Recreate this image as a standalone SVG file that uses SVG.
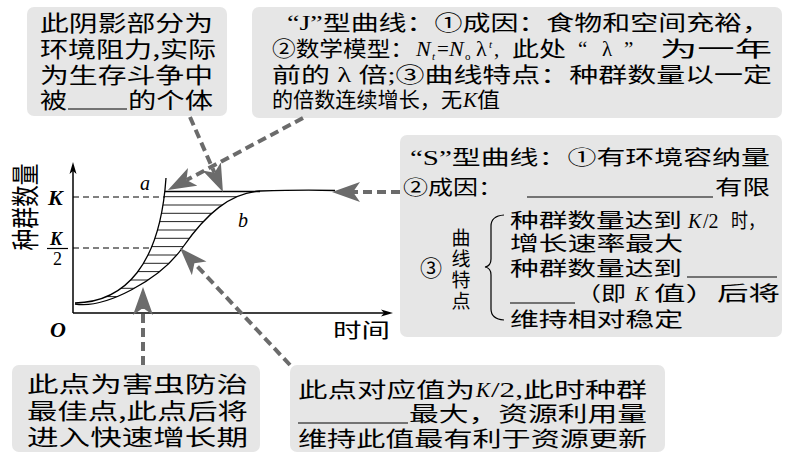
<svg xmlns="http://www.w3.org/2000/svg" width="785" height="453" viewBox="0 0 785 453">
<style>
.box{fill:#e6e6e6}
.t{font-family:"Liberation Serif","Noto Sans CJK SC",serif;fill:#000}
.c{font-family:"Noto Sans CJK SC","Liberation Serif",serif;fill:#000}
.i{font-family:"Liberation Serif",serif;font-style:italic}
.arr{stroke:#6b6b6b;stroke-width:4;stroke-dasharray:9 5;fill:none}
.ul{stroke:#000;stroke-width:1.2}
.hatch line{stroke:#222;stroke-width:1}
.curve{fill:none;stroke:#000;stroke-width:1.3}
</style>
<defs>
<marker id="ah" markerUnits="userSpaceOnUse" markerWidth="30" markerHeight="22" refX="7" refY="10" orient="auto">
<path d="M0,0 L28,10 L0,20 L7,10 Z" fill="#6b6b6b"/>
</marker>
<clipPath id="region">
<path d="M75,303 C125,302 160,265 166,178 L270,178 L270,191 L260,191 C230,193 206,214 183,247 C160,280 105,309 75,304 Z"/>
</clipPath>
</defs>

<g id="graph">
<line x1="73" y1="313" x2="73" y2="168" stroke="#000" stroke-width="1.5"/>
<path d="M73,162 L69.5,174 L73,171 L76.5,174 Z" fill="#000"/>
<line x1="73" y1="313" x2="386" y2="313" stroke="#000" stroke-width="1.5"/>
<path d="M393,313 L381,309.5 L384,313 L381,316.5 Z" fill="#000"/>
<line x1="73" y1="197" x2="165" y2="197" stroke="#000" stroke-width="1" stroke-dasharray="6 4"/>
<line x1="73" y1="248" x2="153" y2="248" stroke="#000" stroke-width="1" stroke-dasharray="6 4"/>
<g class="hatch" clip-path="url(#region)">
<line x1="70" y1="196.7" x2="280" y2="196.7"/>
<line x1="70" y1="205" x2="280" y2="205"/>
<line x1="70" y1="213.3" x2="280" y2="213.3"/>
<line x1="70" y1="221.6" x2="280" y2="221.6"/>
<line x1="70" y1="230" x2="280" y2="230"/>
<line x1="70" y1="238.3" x2="280" y2="238.3"/>
<line x1="70" y1="246.6" x2="280" y2="246.6"/>
<line x1="70" y1="255" x2="280" y2="255"/>
<line x1="70" y1="263.3" x2="280" y2="263.3"/>
<line x1="70" y1="271.6" x2="280" y2="271.6"/>
<line x1="70" y1="280" x2="280" y2="280"/>
<line x1="70" y1="288.3" x2="280" y2="288.3"/>
<line x1="70" y1="296.6" x2="280" y2="296.6"/>
</g>
<line x1="165" y1="191.5" x2="260" y2="191.5" stroke="#000" stroke-width="1.3"/>
<path class="curve" d="M75,303 C125,302 160,265 166,178"/>
<path class="curve" d="M75,304 C105,309 160,280 183,247 C206,214 230,193 260,191 C290,190 320,190 335,190.5"/>
<text class="t" x="48" y="205" font-size="22" font-weight="bold" font-style="italic">K</text>
<text class="t" x="50" y="245" font-size="18" font-weight="bold" font-style="italic">K</text>
<line x1="47" y1="248.5" x2="68" y2="248.5" stroke="#000" stroke-width="1.2"/>
<text class="t" x="53" y="265" font-size="18">2</text>
<text class="t" x="50" y="337" font-size="22" font-weight="bold" font-style="italic">O</text>
<text class="c" x="333" y="338" font-size="20" textLength="57" lengthAdjust="spacingAndGlyphs">时间</text>
<text class="t" x="140" y="190" font-size="20" font-style="italic">a</text>
<text class="t" x="238" y="227" font-size="20" font-style="italic">b</text>
<text class="c" transform="translate(36,207) scale(1.25,1) rotate(-90)" font-size="23" text-anchor="middle" textLength="87" lengthAdjust="spacingAndGlyphs">种群数量</text>
</g>

<g id="box-shade">
<rect class="box" x="27" y="7" width="200" height="109" rx="7"/>
<text class="c" x="40" y="31" font-size="22" textLength="173" lengthAdjust="spacingAndGlyphs">此阴影部分为</text>
<text class="c" x="40" y="57" font-size="22" textLength="176" lengthAdjust="spacingAndGlyphs">环境阻力,实际</text>
<text class="c" x="40" y="83" font-size="22" textLength="173" lengthAdjust="spacingAndGlyphs">为生存斗争中</text>
<text class="c" x="40" y="108" font-size="22" textLength="27" lengthAdjust="spacingAndGlyphs">被</text>
<line class="ul" x1="68" y1="109" x2="127" y2="109"/>
<text class="c" x="128" y="108" font-size="22" textLength="85" lengthAdjust="spacingAndGlyphs">的个体</text>
</g>

<g id="box-j">
<rect class="box" x="252" y="7" width="530" height="111" rx="7"/>
<text class="t" x="287" y="30" font-size="21" textLength="483" lengthAdjust="spacingAndGlyphs">“J”型曲线：①成因：食物和空间充裕，</text>
<text class="t" x="272" y="56" font-size="21" textLength="142" lengthAdjust="spacingAndGlyphs">②数学模型：</text>
<text class="i" x="416" y="56" font-size="22">N</text>
<text class="i" x="432" y="60" font-size="11">t</text>
<text class="t" x="437" y="56" font-size="21">=</text>
<text class="i" x="449" y="56" font-size="22">N</text>
<text class="t" x="465" y="60" font-size="11">o</text>
<text class="t" x="476" y="56" font-size="22">λ</text>
<text class="i" x="489" y="48" font-size="11">t</text>
<text class="t" x="494" y="56" font-size="21">,</text>
<text class="c" x="512" y="56" font-size="21" textLength="54" lengthAdjust="spacingAndGlyphs">此处</text>
<text class="t" x="578" y="56" font-size="21">“</text>
<text class="t" x="602" y="56" font-size="21">λ</text>
<text class="t" x="624" y="56" font-size="21">”</text>
<text class="c" x="660" y="56" font-size="21" textLength="112" lengthAdjust="spacingAndGlyphs">为一年</text>
<text class="t" x="272" y="82" font-size="21" textLength="500" lengthAdjust="spacingAndGlyphs">前的 λ 倍;③曲线特点：种群数量以一定</text>
<text class="c" x="272" y="107" font-size="21" textLength="190" lengthAdjust="spacingAndGlyphs">的倍数连续增长，无</text>
<text class="i" x="463" y="107" font-size="21">K</text>
<text class="c" x="477" y="107" font-size="21" textLength="23" lengthAdjust="spacingAndGlyphs">值</text>
</g>

<g id="box-s">
<rect class="box" x="400" y="135" width="382" height="202" rx="7"/>
<text class="t" x="410" y="165" font-size="20" textLength="360" lengthAdjust="spacingAndGlyphs">“S”型曲线：①有环境容纳量</text>
<text class="t" x="403" y="195" font-size="20" textLength="100" lengthAdjust="spacingAndGlyphs">②成因：</text>
<line class="ul" x1="527" y1="197" x2="713" y2="197"/>
<text class="t" x="715" y="195" font-size="20" textLength="55" lengthAdjust="spacingAndGlyphs">有限</text>
<text class="t" x="420" y="276" font-size="22">③</text>
<text class="c" x="461" y="245" font-size="19" text-anchor="middle">曲</text>
<text class="c" x="461" y="266" font-size="19" text-anchor="middle">线</text>
<text class="c" x="461" y="287" font-size="19" text-anchor="middle">特</text>
<text class="c" x="461" y="308" font-size="19" text-anchor="middle">点</text>
<path d="M504,215 Q491,216 491,226 L491,259 Q491,266 485,267 Q491,268 491,275 L491,309 Q491,319 504,320" fill="none" stroke="#000" stroke-width="1.2"/>
<text class="c" x="510" y="228" font-size="20" textLength="172" lengthAdjust="spacingAndGlyphs">种群数量达到</text>
<text class="i" x="688" y="228" font-size="20">K</text>
<text class="t" x="703" y="228" font-size="20">/2</text>
<text class="c" x="731" y="228" font-size="20" textLength="34" lengthAdjust="spacingAndGlyphs">时，</text>
<text class="t" x="510" y="251" font-size="20" textLength="173" lengthAdjust="spacingAndGlyphs">增长速率最大</text>
<text class="t" x="510" y="276" font-size="20" textLength="172" lengthAdjust="spacingAndGlyphs">种群数量达到</text>
<line class="ul" x1="687" y1="277" x2="777" y2="277"/>
<line class="ul" x1="510" y1="303" x2="575" y2="303"/>
<text class="c" x="576" y="301" font-size="20" textLength="50" lengthAdjust="spacingAndGlyphs">（即</text>
<text class="i" x="635" y="301" font-size="20">K</text>
<text class="c" x="654" y="301" font-size="20" textLength="126" lengthAdjust="spacingAndGlyphs">值）后将</text>
<text class="t" x="510" y="327" font-size="20" textLength="173" lengthAdjust="spacingAndGlyphs">维持相对稳定</text>
</g>

<g id="box-pest">
<rect class="box" x="12" y="365" width="248" height="87" rx="7"/>
<text class="c" x="27" y="392" font-size="22" textLength="221" lengthAdjust="spacingAndGlyphs">此点为害虫防治</text>
<text class="c" x="27" y="419" font-size="22" textLength="221" lengthAdjust="spacingAndGlyphs">最佳点,此点后将</text>
<text class="c" x="27" y="445" font-size="22" textLength="221" lengthAdjust="spacingAndGlyphs">进入快速增长期</text>
</g>

<g id="box-half">
<rect class="box" x="290" y="365" width="375" height="87" rx="7"/>
<text class="c" x="298" y="397" font-size="21" textLength="177" lengthAdjust="spacingAndGlyphs">此点对应值为</text>
<text class="i" x="476" y="397" font-size="21">K</text>
<text class="t" x="491" y="397" font-size="21" textLength="156" lengthAdjust="spacingAndGlyphs">/2,此时种群</text>
<line class="ul" x1="298" y1="423" x2="408" y2="423"/>
<text class="t" x="409" y="421" font-size="21" textLength="238" lengthAdjust="spacingAndGlyphs">最大，资源利用量</text>
<text class="t" x="298" y="446" font-size="21" textLength="349" lengthAdjust="spacingAndGlyphs">维持此值最有利于资源更新</text>
</g>

<g id="connectors">
<line class="arr" x1="190" y1="117" x2="214.5" y2="172.8" marker-end="url(#ah)"/>
<line class="arr" x1="303" y1="118" x2="186.5" y2="180.1" marker-end="url(#ah)"/>
<line class="arr" x1="400" y1="192" x2="353" y2="192" marker-end="url(#ah)"/>
<line class="arr" x1="143" y1="365" x2="143" y2="308" marker-end="url(#ah)"/>
<line class="arr" x1="290" y1="365" x2="194.4" y2="263.3" marker-end="url(#ah)"/>
</g>
</svg>
